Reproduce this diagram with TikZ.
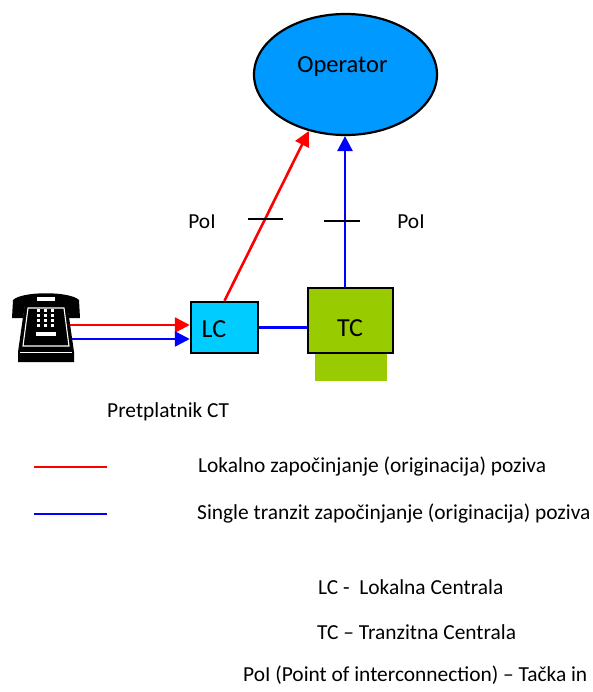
\documentclass[tikz,border=0pt]{standalone}
\usepackage{fontspec}
\setmainfont{Carlito}
\usetikzlibrary{arrows.meta,shapes.geometric}
\definecolor{opblue}{HTML}{0099FF}
\definecolor{lccyan}{HTML}{00CCFF}
\definecolor{tcgreen}{HTML}{99CC00}
\begin{document}
\begin{tikzpicture}[x=1pt,y=-1pt,
  txt/.style={font=\fontsize{21.4}{26}\selectfont, inner sep=0pt},
  bigtxt/.style={font=\fontsize{26}{30}\selectfont, inner sep=0pt},
  conn/.style={line width=2.6pt},
  tip/.style={-{Triangle[length=15pt,width=15pt]}},
  boxstyle/.style={draw=black, line width=2.5pt, inner sep=0pt},
  tick/.style={black, line width=1.8pt}]
\useasboundingbox (0,0) rectangle (592,692);

% Operator
\node[ellipse, draw=black, line width=2.2pt, fill=opblue, inner sep=0pt,
      minimum width=183pt, minimum height=121pt] (Op) at (345.5,74.5) {};
\node[font=\fontsize{24.5}{28}\selectfont, inner sep=0pt] (OpT) at (342.5,67) {Operator};

% TC (green base, then box)
\node[fill=tcgreen, inner sep=0pt, minimum width=72pt, minimum height=30pt] (TCb) at (351,366) {};
\node[boxstyle, fill=tcgreen, minimum width=85pt, minimum height=65pt] (TC) at (350.5,320.5) {};
\node[bigtxt] (TCt) at (350,328) {TC};

% LC
\node[boxstyle, fill=lccyan, minimum width=67pt, minimum height=51pt] (LC) at (224.5,327.5) {};
\node[bigtxt] (LCt) at (214,329) {LC};

% Telephone
\fill[black] (12,318) -- (13,300) .. controls (22,291) and (70,291) .. (79,300)
   -- (80,318) -- (69,318) -- (67,305) -- (25,305) -- (23,318) -- cycle;
\fill[black] (25,303) -- (67,303) -- (74,352) -- (74,362) -- (18,362) -- (18,352) -- cycle;
\draw[white, line width=1.1pt] (28,308) -- (64,308) -- (69,346) -- (23,346) -- cycle;
\fill[white] (37,297) rectangle (55,301);
\foreach \cx in {38,45,52} {
  \foreach \cy in {310,315,320,325} {
    \fill[white] (\cx-1.5,\cy-1.5) rectangle (\cx+1.5,\cy+1.5);
  }
}
\fill[white] (36,332) rectangle (56,336);
\draw[white, line width=1pt] (20,352) -- (72,352);
\coordinate (P1) at (70,325);
\coordinate (P2) at (72,339);

% connectors
\draw[red, conn, tip] (P1) -- (P1 -| LC.west);
\draw[blue, conn, tip] (P2) -- (P2 -| LC.west);
\draw[blue, conn] (LC.east) -- (LC.east -| TC.west);
\draw[red, conn, tip] (LC.north) -- (Op.237.6);
\coordinate (TCtop) at ([xshift=-5.5pt]TC.north);
\draw[blue, conn, tip] (TCtop) -- (TCtop |- Op.south);

% PoI marks
\coordinate (t1a) at (248,219); \coordinate (t1b) at (283,219);
\coordinate (t2a) at (324,221); \coordinate (t2b) at (360,221);
\draw[tick] (t1a) -- (t1b);
\draw[tick] (t2a) -- (t2b);
\node[txt] (poi1) at (202,222) {PoI};
\node[txt] (poi2) at (411,222) {PoI};

% Legend
\node[txt, anchor=west] (pret) at (107,412) {Pretplatnik CT};
\coordinate (r1) at (34,467); \coordinate (r2) at (107,467);
\coordinate (b1) at (34,514); \coordinate (b2) at (107,514);
\draw[red, line width=2pt] (r1) -- (r2);
\draw[blue, line width=2pt] (b1) -- (b2);
\node[txt, anchor=west] (leg1) at (198,467) {Lokalno započinjanje (originacija) poziva};
\node[txt, anchor=west] (leg2) at (197,514) {Single tranzit započinjanje (originacija) poziva};

\node[txt, anchor=west] (d1) at (318,587) {LC -\ \ Lokalna Centrala};
\node[txt, anchor=west] (d2) at (317,632) {TC – Tranzitna Centrala};
\node[txt, anchor=west] (d3) at (243,675) {PoI (Point of interconnection) – Tačka in};
\end{tikzpicture}
\end{document}
